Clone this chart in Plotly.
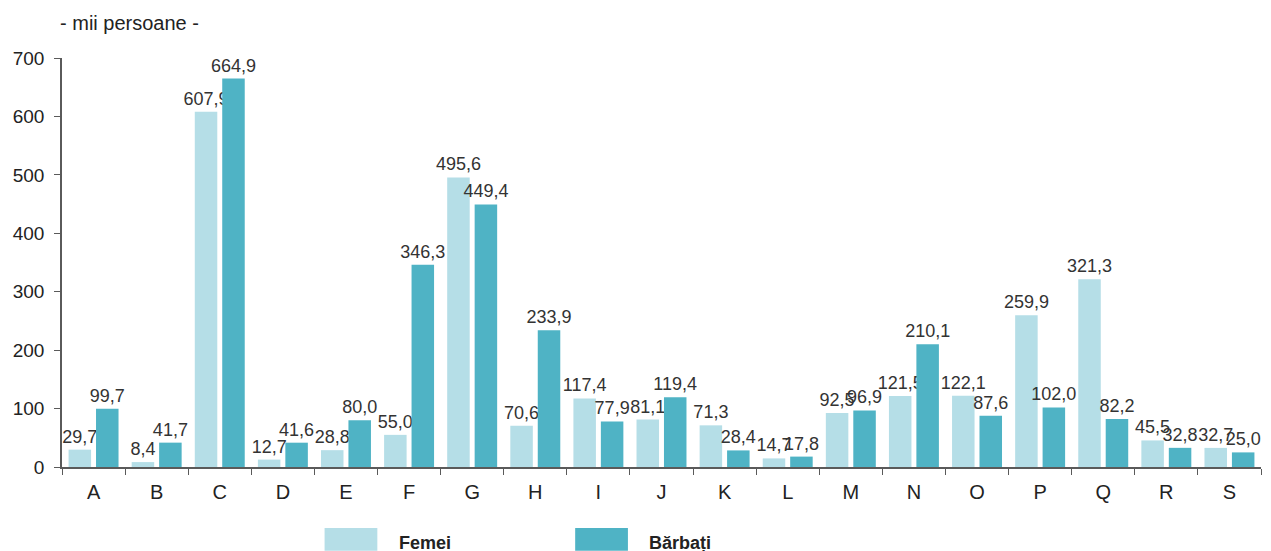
import plotly.graph_objects as go

# Data
categories = ["A", "B", "C", "D", "E", "F", "G", "H", "I", "J",
              "K", "L", "M", "N", "O", "P", "Q", "R", "S"]
femei = [29.7, 8.4, 607.9, 12.7, 28.8, 55.0, 495.6, 70.6, 117.4, 81.1,
         71.3, 14.7, 92.5, 121.5, 122.1, 259.9, 321.3, 45.5, 32.7]
barbati = [99.7, 41.7, 664.9, 41.6, 80.0, 346.3, 449.4, 233.9, 77.9, 119.4,
           28.4, 17.8, 96.9, 210.1, 87.6, 102.0, 82.2, 32.8, 25.0]
y_ticks = [0, 100, 200, 300, 400, 500, 600, 700]

col_f = "#b5dee7"
col_b = "#4fb3c5"
axis_col = "#5a5a5a"
font_fam = "Arial, Liberation Sans, sans-serif"


def fmt(v):
    return f"{v:.1f}".replace(".", ",")


fig = go.Figure()
for name, vals, col in [("Femei", femei, col_f), ("Bărbați", barbati, col_b)]:
    fig.add_trace(go.Bar(
        x=categories, y=vals, name=name,
        marker=dict(color=col, line=dict(width=0)),
        text=[fmt(v) for v in vals],
        textposition="outside", textangle=0,
        constraintext="none", cliponaxis=False,
        textfont=dict(size=18, color="#333333", family=font_fam),
        showlegend=False,
    ))

fig.update_layout(
    width=1271, height=551,
    margin=dict(l=62, r=10, t=58, b=84),
    plot_bgcolor="white", paper_bgcolor="white",
    barmode="group", bargap=0.13, bargroupgap=0.18,
    font=dict(family=font_fam, color="#222222"),
    # second y axis only to draw the inner half of the crossing ticks
    yaxis2=dict(overlaying="y", side="left", range=[0, 700], tickvals=y_ticks,
                ticks="inside", ticklen=5, tickcolor=axis_col,
                showticklabels=False, showgrid=False, zeroline=False,
                showline=False),
)

fig.update_xaxes(
    range=[-0.5, len(categories) - 0.5],
    showline=True, linecolor=axis_col, linewidth=1.5,
    tickson="boundaries", ticks="outside", ticklen=6, tickcolor=axis_col,
    tickfont=dict(size=20, color="#222222"), ticklabelstandoff=6,
    showgrid=False,
)
fig.layout.yaxis.update(range=[0, 700], tickvals=y_ticks, showline=True,
                        linecolor=axis_col, linewidth=1.5, ticks="outside",
                        ticklen=6, tickcolor=axis_col,
                        tickfont=dict(size=19, color="#222222"),
                        ticklabelstandoff=6,
                        showgrid=False, zeroline=False)

# unit label
fig.add_annotation(text="- mii persoane -", xref="paper", yref="paper",
                   x=-0.003, y=1.0, yshift=35, xanchor="left", yanchor="middle",
                   showarrow=False, font=dict(size=20, color="#222222"))

# legend drawn by hand (large swatches like the original)
for x0, label, col in [(0.219, "Femei", col_f), (0.428, "Bărbați", col_b)]:
    fig.add_shape(type="rect", xref="paper", yref="paper",
                  x0=x0, x1=x0 + 0.044, y0=-0.149, y1=-0.205,
                  fillcolor=col, line=dict(width=0))
    fig.add_annotation(text=f"<b>{label}</b>", xref="paper", yref="paper",
                       x=x0 + 0.06, y=-0.185, xanchor="left", yanchor="middle",
                       showarrow=False, font=dict(size=18, color="#222222"))

fig.write_html("out.html", config={"displayModeBar": False},
               post_script="document.body.style.margin='0';")
